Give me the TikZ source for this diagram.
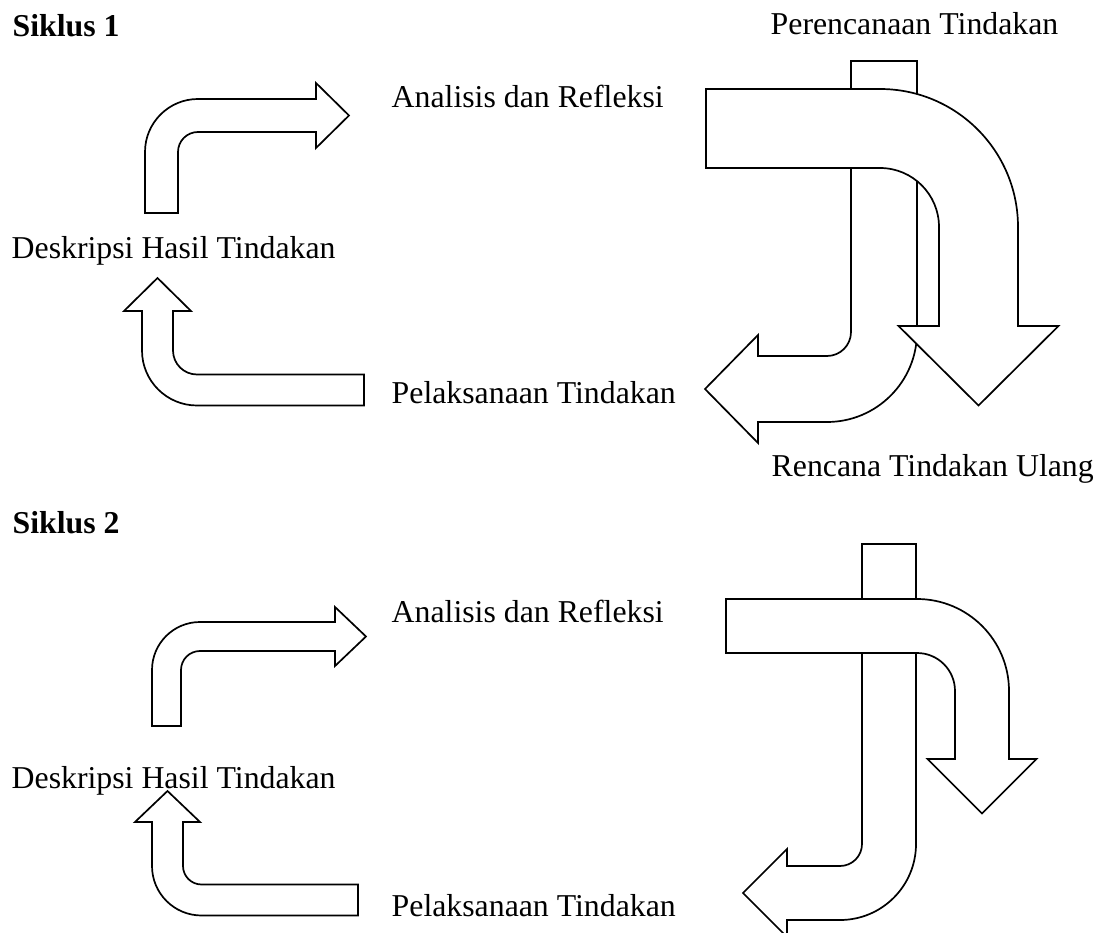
\documentclass[tikz,border=0pt]{standalone}
\usepackage{fontspec}
\setmainfont{Liberation Serif}
\begin{document}
\begin{tikzpicture}[yscale=-1, x=1pt, y=1pt,
  shapearrow/.style={draw=black, fill=white, line width=1.7pt, line join=miter},
  lbl/.style={anchor=base west, inner sep=0pt, font=\fontsize{31.8}{38}\selectfont},
  ttl/.style={anchor=base west, inner sep=0pt, font=\fontsize{31.8}{38}\selectfont\bfseries}]
\useasboundingbox (0,0) rectangle (1101,933);

% ---------------- Siklus 1 ----------------
\node[ttl] (s1) at (12.5,36.7) {Siklus 1};
\node[lbl] (ar1) at (391.5,107.3) {Analisis dan Refleksi};
\node[lbl] (pt1) at (770.5,35) {Perencanaan Tindakan};
\node[lbl] (dh1) at (11.5,258.3) {Deskripsi Hasil Tindakan};
\node[lbl] (pl1) at (391.5,403.3) {Pelaksanaan Tindakan};
\node[lbl] (rt1) at (771.5,476.7) {Rencana Tindakan Ulang};

% bent arrow up-right
\draw[shapearrow] (145,213) -- (145,152) arc[start angle=180, end angle=270, radius=53pt]
  -- (316,99) -- (316,83) -- (349,115.5) -- (316,148) -- (316,132) -- (198,132)
  arc[start angle=270, end angle=180, radius=20pt] -- (178,213) -- cycle;

% bent arrow left-up
\draw[shapearrow] (364,374.5) -- (197,374.5) arc[start angle=90, end angle=180, radius=24pt]
  -- (173,311) -- (191,311) -- (157.5,278) -- (124,311) -- (142,311) -- (142,350.5)
  arc[start angle=180, end angle=90, radius=55pt] -- (364,405.5) -- cycle;

% big arrow down-left
\draw[shapearrow] (851,61) -- (917,61) -- (917,332) arc[start angle=0, end angle=90, radius=90pt]
  -- (758,422) -- (758,443) -- (705,389) -- (758,335) -- (758,356) -- (827,356)
  arc[start angle=90, end angle=0, radius=24pt] -- cycle;

% big arrow right-down
\draw[shapearrow] (706,89) -- (880,89) arc[start angle=270, end angle=360, radius=138pt]
  -- (1018,326) -- (1058.5,326) -- (978.5,405.5) -- (898.5,326) -- (939,326) -- (939,227)
  arc[start angle=0, end angle=-90, radius=59pt] -- (706,168) -- cycle;

% ---------------- Siklus 2 ----------------
\node[ttl] (s2) at (12.5,533.7) {Siklus 2};
\node[lbl] (ar2) at (391.5,622) {Analisis dan Refleksi};
\node[lbl] (dh2) at (11.5,788) {Deskripsi Hasil Tindakan};
\node[lbl] (pl2) at (391.5,916) {Pelaksanaan Tindakan};

% bent arrow up-right
\draw[shapearrow] (152,726) -- (152,670) arc[start angle=180, end angle=270, radius=48pt]
  -- (335,622) -- (335,607) -- (366,636.5) -- (335,666) -- (335,651) -- (200,651)
  arc[start angle=270, end angle=180, radius=19pt] -- (181,726) -- cycle;

% bent arrow left-up
\draw[shapearrow] (358,884.5) -- (201.5,884.5) arc[start angle=90, end angle=180, radius=18.5pt]
  -- (183,822) -- (200,822) -- (167.5,791) -- (135,822) -- (152,822) -- (152,866)
  arc[start angle=180, end angle=90, radius=49.5pt] -- (358,915.5) -- cycle;

% big arrow down-left
\draw[shapearrow] (862,544) -- (916,544) -- (916,844) arc[start angle=0, end angle=90, radius=76pt]
  -- (787,920) -- (787,937) -- (743,893) -- (787,849) -- (787,866) -- (840,866)
  arc[start angle=90, end angle=0, radius=22pt] -- cycle;

% big arrow right-down
\draw[shapearrow] (726,599) -- (917,599) arc[start angle=270, end angle=360, radius=92pt]
  -- (1009,759) -- (1036.5,759) -- (982,813.5) -- (927.5,759) -- (955,759) -- (955,691)
  arc[start angle=0, end angle=-90, radius=38pt] -- (726,653) -- cycle;
\end{tikzpicture}
\end{document}
